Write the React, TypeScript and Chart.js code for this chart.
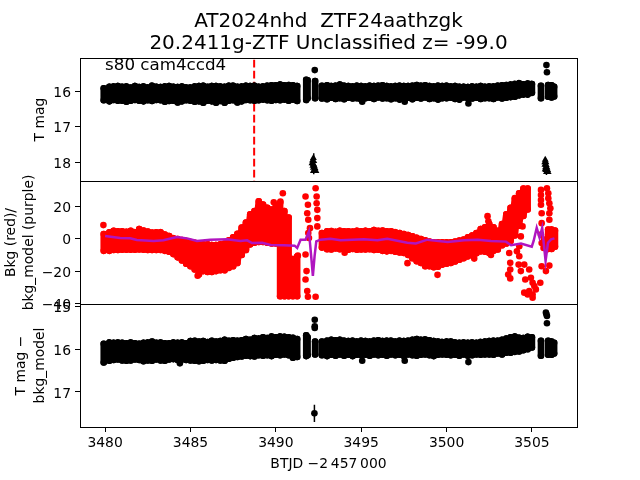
import React, { useEffect, useRef } from "react";
import { Chart, registerables } from "chart.js";

Chart.register(...registerables);

const titleLines = ["AT2024nhd  ZTF24aathzgk", "20.2411g-ZTF Unclassified z= -99.0"];
const sectorNote = "s80 cam4ccd4";
const xTicks = [3480, 3485, 3490, 3495, 3500, 3505];
const magTicks = [16, 17, 18];
const bkgTicks = [20, 0, -20, -40];
const diffTicks = [15, 16, 17];
const eventDay = [3488.73, 3488.73];
const eventMag = [15.12, 18.53];

const leftDays = [
  3479.92, 3480.25, 3480.5, 3480.75, 3481, 3481.25, 3481.5, 3481.75, 3482, 3482.25,
  3482.5, 3482.75, 3483, 3483.25, 3483.5, 3483.75, 3484, 3484.25, 3484.5, 3484.75,
  3485, 3485.25, 3485.5, 3485.75, 3486, 3486.25, 3486.5, 3486.75, 3487, 3487.25,
  3487.5, 3487.75, 3488, 3488.25, 3488.5, 3488.75, 3489, 3489.25, 3489.5, 3489.75,
  3490, 3490.25, 3490.5, 3490.75, 3491, 3491.25,
];
const midDays = [null, 3491.78, 3491.86, null, 3492.3, null];
const rightDays = [
  3492.7, 3493, 3493.25, 3493.5, 3493.75, 3494, 3494.25, 3494.5, 3494.75, 3495,
  3495.25, 3495.5, 3495.75, 3496, 3496.25, 3496.5, 3496.75, 3497, 3497.25, 3497.5,
  3497.75, 3498, 3498.25, 3498.5, 3498.75, 3499, 3499.25, 3499.5, 3499.75, 3500,
  3500.25, 3500.5, 3500.75, 3501, 3501.25, 3501.5, 3501.75, 3502, 3502.25, 3502.5,
  3502.75, 3503, 3503.25, 3503.5, 3503.75, 3504, 3504.25, 3504.5, 3504.75, 3505,
];
const tailDays = [null, 3505.53, null, 3505.95, 3506.15, 3506.3];

const magTop = [
  15.92, 15.88, 15.87, 15.86, 15.88, 15.87, 15.9, 15.86, 15.89, 15.87,
  15.9, 15.85, 15.88, 15.89, 15.87, 15.86, 15.88, 15.89, 15.87, 15.9,
  15.9, 15.87, 15.86, 15.85, 15.88, 15.86, 15.86, 15.87, 15.88, 15.85,
  15.85, 15.88, 15.87, 15.85, 15.86, 15.85, 15.88, 15.87, 15.85, 15.84,
  15.84, 15.82, 15.84, 15.83, 15.84, 15.86,
  null, 15.68, 15.7, null, 15.72, null,
  15.85, 15.84, 15.86, 15.85, 15.82, 15.85, 15.86, 15.87, 15.85, 15.86,
  15.87, 15.85, 15.86, 15.85, 15.84, 15.86, 15.87, 15.86, 15.85, 15.86,
  15.86, 15.85, 15.83, 15.85, 15.84, 15.86, 15.87, 15.85, 15.86, 15.85,
  15.87, 15.86, 15.88, 15.88, 15.89, 15.87, 15.88, 15.86, 15.88, 15.87,
  15.87, 15.85, 15.84, 15.83, 15.82, 15.8, 15.78, 15.81, 15.79, 15.8,
  null, 15.85, null, 15.83, 15.84, 15.88,
];
const magBot = [
  16.26, 16.29, 16.25, 16.27, 16.27, 16.3, 16.27, 16.25, 16.27, 16.29,
  16.26, 16.28, 16.25, 16.26, 16.3, 16.28, 16.27, 16.32, 16.29, 16.26,
  16.27, 16.3, 16.29, 16.33, 16.27, 16.29, 16.33, 16.28, 16.33, 16.27,
  16.26, 16.32, 16.29, 16.25, 16.26, 16.27, 16.26, 16.24, 16.26, 16.27,
  16.25, 16.26, 16.24, 16.27, 16.24, 16.28,
  null, 16.25, 16.2, null, 16.2, null,
  16.21, 16.23, 16.19, 16.22, 16.2, 16.23, 16.19, 16.21, 16.2, 16.24,
  16.2, 16.19, 16.22, 16.18, 16.21, 16.2, 16.23, 16.2, 16.24, 16.2,
  16.19, 16.23, 16.19, 16.21, 16.18, 16.22, 16.2, 16.24, 16.2, 16.2,
  16.19, 16.22, 16.24, 16.18, 16.2, 16.21, 16.19, 16.22, 16.2, 16.2,
  16.22, 16.18, 16.21, 16.19, 16.17, 16.16, 16.12, 16.1, 16.1, 16.05,
  null, 16.2, null, 16.16, 16.18, 16.15,
];
const magDotDay = [3492.28, 3505.85, 3505.88, 3495.06, 3497.55, 3501.28];
const magDotVal = [15.41, 15.27, 15.47, 16.3, 16.3, 16.35];
const limitDay = [3492.2, 3492.15, 3492.22, 3492.12, 3492.2, 3492.17, 3492.25, 3492.2, 3492.3, 3492.25, 3492.35, 3492.2, 3505.78, 3505.75, 3505.82, 3505.76, 3505.84, 3505.8, 3505.88, 3505.82, 3505.92, 3505.85, 3505.95, 3505.78];
const limitMag = [17.88, 17.95, 17.97, 18.03, 18.05, 18.1, 18.1, 18.16, 18.17, 18.22, 18.25, 18.25, 17.93, 18.0, 18.0, 18.07, 18.08, 18.14, 18.15, 18.22, 18.22, 18.28, 18.28, 18.2];
const limitBarDay = [3492.22, 3492.22, 3505.85, 3505.85];
const limitBarMag = [17.75, 18.34, 18.0, 18.36];

const redRightDays = [
  3492.7, 3493, 3493.25, 3493.5, 3493.75, 3494, 3494.25, 3494.5, 3494.75, 3495,
  3495.25, 3495.5, 3495.75, 3496, 3496.25, 3496.5, 3496.75, 3497, 3497.25, 3497.5,
  3497.75, 3498, 3498.25, 3498.5, 3498.75, 3499, 3499.25, 3499.5, 3499.75, 3500,
  3500.25, 3500.5, 3500.75, 3501, 3501.25, 3501.5, 3501.75, 3502, 3502.25, 3502.5,
  3502.75, 3503, 3503.25, 3503.5, 3503.75, 3504, 3504.25, 3504.5, 3504.75,
  null, 3505.95, 3506.15, 3506.35,
];
const redTop = [
  2.9, 3.9, 4.9, 4.5, 4.5, 4.2, 4.9, 4, 5.9, 5,
  4.4, 3.8, 3.9, 4, 2.5, 1.6, 0.3, -0.2, -0.8, -1.5,
  -2, -2.5, -3.3, -3.5, -3.5, -4, -4, -3.5, -3, -1,
  0.8, 3, 6.9, 10, 15, 17, 23, 21, 19, 18,
  20, 22, 17, 13, -12.5, -11,
  null,
  3.5, 4.5, 4.7, 4.2, 4.8, 4.5, 4.6, 4.4, 4.8, 4.5,
  4.8, 4.5, 5.3, 4.9, 5, 4.5, 4.6, 4, 3.5, 2.9,
  2.2, 1.5, 0.5, -0.2, -1, -1.8, -2.3, -2.3, -2.3, -2.3,
  -2.3, -1.8, -1.2, -0.5, 0.8, 2, 3.5, 5.9, 7, 9,
  7, 4.9, 9, 15, 19, 25, 28, 31, 31,
  null, 5.7, 5.7, 5,
];
const redBot = [
  -7.5, -7.5, -7, -7, -6.8, -6.8, -6.8, -6.8, -6.7, -6.8,
  -7, -7, -7, -7, -7.5, -8, -9.5, -11.5, -13.5, -15.5,
  -17, -19, -22, -20, -20.5, -20.5, -20, -19.5, -19.5, -18,
  -17, -15, -10, -7, -3.5, -2.5, -2, -2, -2.5, -3,
  -3, -35.5, -35.5, -35.5, -35.5, -35.5,
  null,
  -5.5, -6.5, -6.7, -6, -6.5, -6.5, -6.8, -6.3, -6.8, -6.6,
  -6.7, -6.5, -7, -6.8, -7.5, -7.8, -7.5, -8, -8.5, -8.8,
  -10, -12, -13.9, -15, -17, -17, -17.6, -17.3, -16, -15.5,
  -15, -14, -13, -12, -10.9, -10, -9, -7.8, -8, -8.8,
  -7.5, -6.7, -4, -3, -1.5, 2, 8, 14, 18,
  null, -6.3, -6.3, -5,
];
const redDotDay = [
  3479.9, 3485.42, 3490.41, 3489.88, 3490.27, 3491.74, 3491.88, 3491.84, 3491.9, 3492.0, 3491.9,
  3492.33, 3492.39, 3492.39, 3492.43, 3492.43, 3492.43, 3491.29, 3491.8, 3491.74, 3491.84, 3491.88,
  3492.33, 3491.74, 3491.94, 3497.71, 3499.47, 3502.4, 3502.45, 3494.03, 3501.62, 3502.6,
  3503.67, 3503.73, 3503.73, 3503.61, 3503.73, 3504.12, 3504.26, 3504.35, 3504.45, 3504.26, 3504.22,
  3504.55, 3504.84, 3504.35, 3504.61, 3504.94, 3505.04, 3505.14, 3504.55, 3504.84, 3505.04, 3505.23,
  3505.49, 3505.04, 3504.75, 3505.53, 3505.88, 3505.53, 3505.96, 3506.02, 3505.57, 3506.02, 3506.02,
  3505.57, 3505.53, 3505.57, 3505.57, 3506.02, 3505.82, 3505.96, 3506.08, 3505.53, 3505.53, 3505.68, 3505.72,
];
const redDotVal = [
  8.4, -22.9, 28, 22.5, 22.9, 26, 20.9, 15.7, 11.7, 6.5, 3.5,
  31.1, 26, 21.9, 17.8, 12.7, 7.6, -10.4, -20, -25.2, -32.3, -35.8,
  -35.8, -9.8, 0.4, -15.1, -22.3, 13.9, 10.8, -8.6, -12.3, -10,
  -8.8, -14.9, -19, -22.1, -24.5, -7.8, -4.7, 1.4, 7.6, -10.8, -16,
  -16, -19, -20, -25.2, -24.1, -27.2, -29.2, -33.3, -32.3, -34.4, -31.3,
  -27.2, -36.4, -34.4, 30.1, 31.1, 23.9, 28, 21.9, 15.7, 15.7, 11.7,
  9.6, 2.5, -2.7, -17, -16.6, -20, 25, 18.8, 27, 20.9, -5.7, -0.6,
];
const modelDay = [
  3480, 3480.88, 3481.47, 3481.86, 3482.84, 3483.42, 3484.2, 3484.8, 3485.38, 3486.16,
  3487.14, 3487.93, 3488.32, 3488.61, 3489.2, 3489.69, 3490.47, 3491.1, 3491.25, 3491.45,
  3491.74, 3491.94, 3492.07, 3492.17, 3492.27, 3492.37, 3492.62, 3493.2, 3493.8, 3495.16,
  3495.95, 3496.53, 3497.7, 3498.2, 3498.88, 3500.06, 3501.03, 3501.82, 3502.6, 3503.48,
  3503.78, 3504.36, 3504.99, 3505.1, 3505.28, 3505.45, 3505.6, 3505.8, 3505.94, 3506.12, 3506.32,
];
const modelVal = [
  1.6, 0.4, 0.2, -0.8, -1.4, -1, 1, 0.2, -1.4, -0.6,
  -0.4, -1.4, -1, -2.7, -2.5, -3.9, -4.1, -4.3, -5.7, -0.6,
  -0.6, 4.5, -10.8, -23, -10.8, -1.6, -0.6, 0, -1, -0.4,
  -1, 0, -2.5, -2.9, -0.6, -2, -1, -0.6, -1.4, -1.8,
  -4, -3, -4.9, -1.4, 6.7, 0.6, 6.7, -13.7, -2.5, -0.4, 0.2,
];

const diffTop = [
  15.87, 15.84, 15.85, 15.84, 15.85, 15.86, 15.84, 15.86, 15.87, 15.85,
  15.84, 15.82, 15.85, 15.84, 15.86, 15.86, 15.84, 15.85, 15.84, 15.86,
  15.81, 15.8, 15.82, 15.81, 15.83, 15.8, 15.82, 15.81, 15.78, 15.8,
  15.79, 15.8, 15.79, 15.76, 15.78, 15.74, 15.75, 15.72, 15.74, 15.7,
  15.72, 15.7, 15.71, 15.72, 15.73, 15.76,
  null, 15.67, 15.72, null, 15.82, null,
  15.82, 15.8, 15.78, 15.79, 15.78, 15.8, 15.81, 15.8, 15.82, 15.8,
  15.81, 15.82, 15.8, 15.79, 15.81, 15.8, 15.8, 15.82, 15.8, 15.81,
  15.8, 15.78, 15.76, 15.78, 15.77, 15.79, 15.81, 15.82, 15.83, 15.82,
  15.82, 15.84, 15.85, 15.84, 15.85, 15.84, 15.85, 15.83, 15.82, 15.81,
  15.8, 15.8, 15.78, 15.75, 15.72, 15.7, 15.73, 15.74, 15.71, 15.72,
  null, 15.8, null, 15.8, 15.82, 15.85,
];
const diffBot = [
  16.31, 16.27, 16.25, 16.24, 16.26, 16.27, 16.26, 16.24, 16.25, 16.28,
  16.26, 16.27, 16.24, 16.26, 16.27, 16.24, 16.23, 16.25, 16.24, 16.25,
  16.26, 16.27, 16.28, 16.27, 16.25, 16.26, 16.25, 16.26, 16.27, 16.22,
  16.2, 16.18, 16.17, 16.15, 16.16, 16.17, 16.14, 16.15, 16.14, 16.16,
  16.13, 16.14, 16.12, 16.14, 16.2, 16.18,
  null, 16.16, 16.14, null, 16.12, null,
  16.14, 16.16, 16.13, 16.15, 16.12, 16.15, 16.13, 16.16, 16.13, 16.14,
  16.13, 16.15, 16.12, 16.14, 16.13, 16.15, 16.12, 16.14, 16.13, 16.16,
  16.12, 16.14, 16.15, 16.13, 16.12, 16.14, 16.16, 16.13, 16.12, 16.13,
  16.14, 16.13, 16.15, 16.12, 16.15, 16.14, 16.12, 16.13, 16.12, 16.12,
  16.13, 16.1, 16.12, 16.08, 16.08, 16.06, 16.05, 16.02, 16.0, 15.96,
  null, 16.15, null, 16.13, 16.13, 16.1,
];
const diffDotDay = [3492.28, 3492.28, 3492.28, 3505.82, 3505.85, 3505.88, 3505.88, 3495.06, 3497.55, 3501.28, 3484.38, 3492.26];
const diffDotVal = [15.31, 15.46, 15.5, 15.14, 15.18, 15.22, 15.39, 16.27, 16.27, 16.3, 16.33, 17.5];
const diffBarDay = [3492.26, 3492.26];
const diffBarVal = [17.3, 17.7];

const FONT = "'DejaVu Sans'";

function zigzag(days: (number | null)[], tops: (number | null)[], bots: (number | null)[]) {
  const pts: { x: number; y: number | null }[] = [];
  let last = days.find((d) => d !== null) as number;
  days.forEach((d, i) => {
    if (d === null) {
      pts.push({ x: last, y: null });
    } else {
      last = d;
      pts.push({ x: d, y: tops[i] });
      pts.push({ x: d, y: bots[i] });
    }
  });
  return pts;
}
const zip = (xs: number[], ys: number[]) => xs.map((x, i) => ({ x, y: ys[i] }));

function band(data: any, color: string, yAxisID: string) {
  return {
    data, yAxisID, xAxisID: "x", showLine: true, order: 2,
    borderColor: color, backgroundColor: color, borderWidth: 6.6,
    borderCapStyle: "round", borderJoinStyle: "round",
    pointRadius: 3.3, pointBorderWidth: 0, spanGaps: false,
  };
}
function dots(data: any, color: string, yAxisID: string) {
  return { data, yAxisID, xAxisID: "x", order: 1, backgroundColor: color, borderColor: color, pointRadius: 3.3, pointBorderWidth: 0 };
}
function bar(data: any, yAxisID: string) {
  return { data, yAxisID, xAxisID: "x", showLine: true, order: 1, borderColor: "#000", borderWidth: 1.5, pointRadius: 0 };
}

function yAxis(ticks: number[], min: number, max: number, reverse: boolean, title: string | string[], pad: number, lineHeight: number) {
  return {
    type: "linear", position: "left", stack: "panels", stackWeight: 1, min, max, reverse,
    afterFit: (s: any) => { s.width = 80; },
    afterBuildTicks: (s: any) => { s.ticks = ticks.map((value) => ({ value })); },
    grid: { drawOnChartArea: false, drawTicks: true, tickLength: 5, tickColor: "#000", tickWidth: 1 },
    border: { color: "#000", width: 1 },
    ticks: {
      color: "#000", padding: 4, autoSkip: false, maxRotation: 0, labelOffset: 2,
      font: { family: FONT, size: 13.9 },
      callback: (v: number) => String(v).replace("-", "\u2212"),
    },
    title: {
      display: true, text: title, color: "#000",
      font: { family: FONT, size: 13.9, lineHeight },
      padding: { top: pad, bottom: 0 },
    },
  };
}

const framePlugin = {
  id: "frame",
  afterDatasetsDraw(chart: any) {
    const { ctx, chartArea: a, scales } = chart;
    ctx.save();
    ctx.strokeStyle = "#000";
    ctx.lineWidth = 1;
    ctx.beginPath();
    const lines = [a.top, scales.y1.bottom, scales.y2.bottom, a.bottom];
    lines.forEach((y: number) => {
      const py = Math.round(y) + 0.5;
      ctx.moveTo(a.left, py);
      ctx.lineTo(a.right, py);
    });
    ctx.moveTo(a.right + 0.5, a.top);
    ctx.lineTo(a.right + 0.5, a.bottom);
    ctx.stroke();
    ctx.fillStyle = "#000";
    ctx.font = `16.7px ${FONT}`;
    ctx.textAlign = "left";
    ctx.textBaseline = "alphabetic";
    ctx.fillText(sectorNote, scales.x.getPixelForValue(3480), scales.y1.getPixelForValue(15.4));
    ctx.restore();
  },
};

export default function App() {
  const ref = useRef<HTMLCanvasElement>(null);
  useEffect(() => {
    const magDays = [...leftDays, ...midDays, ...rightDays, ...tailDays];
    const redDays = [...leftDays, null, ...redRightDays];
    const chart = new Chart(ref.current as HTMLCanvasElement, {
      type: "scatter",
      plugins: [framePlugin],
      data: {
        datasets: [
          { data: zip(eventDay, eventMag), yAxisID: "y1", xAxisID: "x", showLine: true, order: 3, borderColor: "#ff0000", borderWidth: 2, borderDash: [7.7, 3.3], pointRadius: 0 },
          band(zigzag(magDays, magTop, magBot), "#000", "y1"),
          dots(zip(magDotDay, magDotVal), "#000", "y1"),
          { ...dots(zip(limitDay, limitMag), "#000", "y1"), pointStyle: "triangle", pointRadius: 4 },
          { ...bar([...zip(limitBarDay.slice(0, 2), limitBarMag.slice(0, 2)), { x: limitBarDay[1], y: null }, ...zip(limitBarDay.slice(2), limitBarMag.slice(2))], "y1") },
          band(zigzag(redDays, redTop, redBot), "#ff0000", "y2"),
          dots(zip(redDotDay, redDotVal), "#ff0000", "y2"),
          { data: zip(modelDay, modelVal), yAxisID: "y2", xAxisID: "x", showLine: true, order: 0, borderColor: "#b015c0", borderWidth: 2.5, pointRadius: 0 },
          band(zigzag(magDays, diffTop, diffBot), "#000", "y3"),
          dots(zip(diffDotDay, diffDotVal), "#000", "y3"),
          bar(zip(diffBarDay, diffBarVal), "y3"),
        ] as any,
      },
      options: {
        responsive: false,
        animation: false,
        layout: { padding: { left: 0, right: 63, top: 0, bottom: 0 } },
        plugins: {
          legend: { display: false },
          tooltip: { enabled: false },
          title: {
            display: true, text: titleLines, color: "#000", fullSize: false,
            font: { family: FONT, size: 20, weight: "normal", lineHeight: 1.1 },
            padding: { top: 11, bottom: 3 },
          },
        },
        scales: {
          y3: yAxis(diffTicks, 14.94, 17.82, true, ["T mag \u2212", "bkg_model"], 12, 1.35),
          y2: yAxis(bkgTicks, -40.3, 35.6, false, ["Bkg (red)/", "bkg_model (purple)"], 3, 1.25),
          y1: yAxis(magTicks, 15.07, 18.53, true, "T mag", 32, 1.25),
          x: {
            type: "linear", position: "bottom", min: 3478.53, max: 3507.64,
            afterFit: (s: any) => { s.height = 53; },
            afterBuildTicks: (s: any) => { s.ticks = xTicks.map((value) => ({ value })); },
            grid: { drawOnChartArea: false, drawTicks: true, tickLength: 5, tickColor: "#000", tickWidth: 1 },
            border: { color: "#000", width: 1 },
            ticks: {
              color: "#000", padding: 3, autoSkip: false, maxRotation: 0,
              font: { family: FONT, size: 13.9 },
              callback: (v: number) => String(v),
            },
            title: {
              display: true, text: "BTJD \u22122\u2009457\u2009000", color: "#000",
              font: { family: FONT, size: 13.9 },
              padding: { top: 4, bottom: 7 },
            },
          },
        } as any,
      },
    } as any);
    return () => chart.destroy();
  }, []);
  return (
    <div style={{ position: "fixed", left: 0, top: 0, width: 640, height: 480, background: "#fff" }}>
      <canvas ref={ref} width={640} height={480} style={{ display: "block" }} />
    </div>
  );
}
